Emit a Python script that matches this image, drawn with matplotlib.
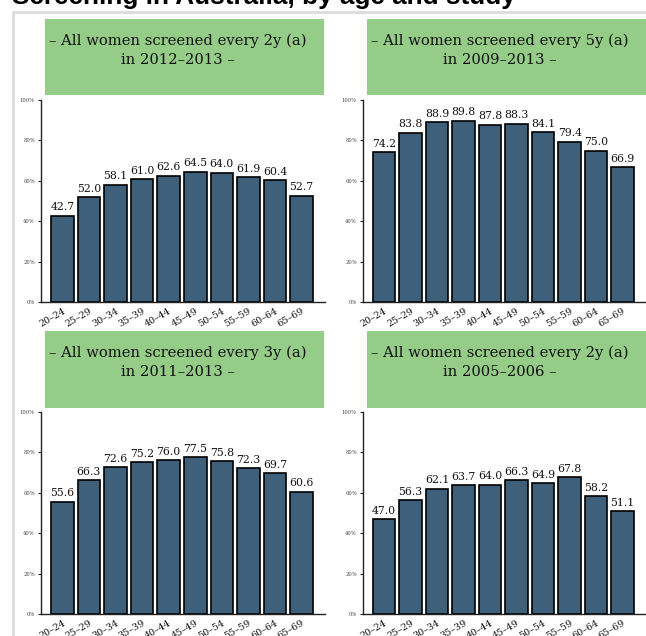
import matplotlib
matplotlib.use("Agg")
import matplotlib.pyplot as plt
from matplotlib.patches import Rectangle
from matplotlib.lines import Line2D

W, H = 646, 636
DPI = 100

title = "Screening in Australia, by age and study"
age_groups = ["20–24", "25–29", "30–34", "35–39", "40–44",
              "45–49", "50–54", "55–59", "60–64", "65–69"]
panel_titles = [
    "– All women screened every 2y (a)\nin 2012–2013 –",
    "– All women screened every 5y (a)\nin 2009–2013 –",
    "– All women screened every 3y (a)\nin 2011–2013 –",
    "– All women screened every 2y (a)\nin 2005–2006 –",
]
vals_2y_2012 = [42.7, 52.0, 58.1, 61.0, 62.6, 64.5, 64.0, 61.9, 60.4, 52.7]
vals_5y_2009 = [74.2, 83.8, 88.9, 89.8, 87.8, 88.3, 84.1, 79.4, 75.0, 66.9]
vals_3y_2011 = [55.6, 66.3, 72.6, 75.2, 76.0, 77.5, 75.8, 72.3, 69.7, 60.6]
vals_2y_2005 = [47.0, 56.3, 62.1, 63.7, 64.0, 66.3, 64.9, 67.8, 58.2, 51.1]
series = [vals_2y_2012, vals_5y_2009, vals_3y_2011, vals_2y_2005]
yticks = [0, 20, 40, 60, 80, 100]

BAR = "#3e607a"
GREEN = "#95cc87"
SERIF = ["DejaVu Serif"]

fig = plt.figure(figsize=(W / DPI, H / DPI), dpi=DPI)
fig.patch.set_facecolor("white")

def fx(x):
    return x / W

def fy(y):
    return 1 - y / H

# title (partially clipped at top, as in reference)
fig.text(fx(12), fy(4), title, fontsize=18.8, fontweight="bold",
         family="Liberation Sans", ha="left", va="baseline", color="black")

# grey frame
fig.add_artist(Line2D([fx(13), fx(13), fx(W + 5)], [fy(H + 5), fy(11.5), fy(11.5)],
                      transform=fig.transFigure, color="#dcdcdc", lw=2.0))

# panel positions: (axes left, axes top, axes right, axes bottom, box left, box top, box right, box bottom)
panels = [
    (41, 100, 325, 302, 45, 19, 324, 95),
    (363, 100, 646, 302, 367, 19, 646, 95),
    (41, 412, 325, 614, 45, 331, 324, 408),
    (363, 412, 646, 614, 367, 331, 646, 408),
]

for p, vals, ttl in zip(panels, series, panel_titles):
    axl, axt, axr, axb, bl, bt, br, bb = p
    fig.add_artist(Rectangle((fx(bl), fy(bb)), fx(br - bl), (bb - bt) / H,
                             transform=fig.transFigure, facecolor=GREEN,
                             edgecolor="none"))
    lines = ttl.split("\n")
    cx = bl + 133
    fig.text(fx(cx), fy(bt + 26), lines[0], ha="center", va="baseline",
             fontsize=10.6, family=SERIF, color="#111111")
    fig.text(fx(cx), fy(bt + 45), lines[1], ha="center", va="baseline",
             fontsize=10.6, family=SERIF, color="#111111")

    ax = fig.add_axes([fx(axl), fy(axb), fx(axr - axl), (axb - axt) / H])
    x = list(range(len(age_groups)))
    ax.bar(x, vals, width=0.85, color=BAR, edgecolor="black", linewidth=1.2)
    for xi, v in zip(x, vals):
        ax.annotate(f"{v:.1f}", (xi, v), xytext=(0, 3.8), textcoords="offset points",
                    ha="center", va="baseline", fontsize=7.8, family=SERIF,
                    color="#111111")
    ax.set_ylim(0, 100)
    ax.set_xlim(-0.8, 9.88)
    ax.set_yticks(yticks)
    ax.set_yticklabels([f"{t}%" for t in yticks], fontsize=3.8, family=SERIF,
                       color="#444444")
    ax.set_xticks(x)
    ax.set_xticklabels(age_groups, rotation=30, ha="right", rotation_mode="anchor",
                       fontsize=6.8, family=SERIF, color="#111111")
    ax.tick_params(axis="x", length=0, pad=3)
    ax.tick_params(axis="y", length=2.5, width=0.8, pad=2, color="#222222")
    for s in ["top", "right"]:
        ax.spines[s].set_visible(False)
    for s in ["left", "bottom"]:
        ax.spines[s].set_linewidth(1.0)
        ax.spines[s].set_color("#222222")
    ax.set_facecolor("none")

fig.savefig("out.png", dpi=DPI)
